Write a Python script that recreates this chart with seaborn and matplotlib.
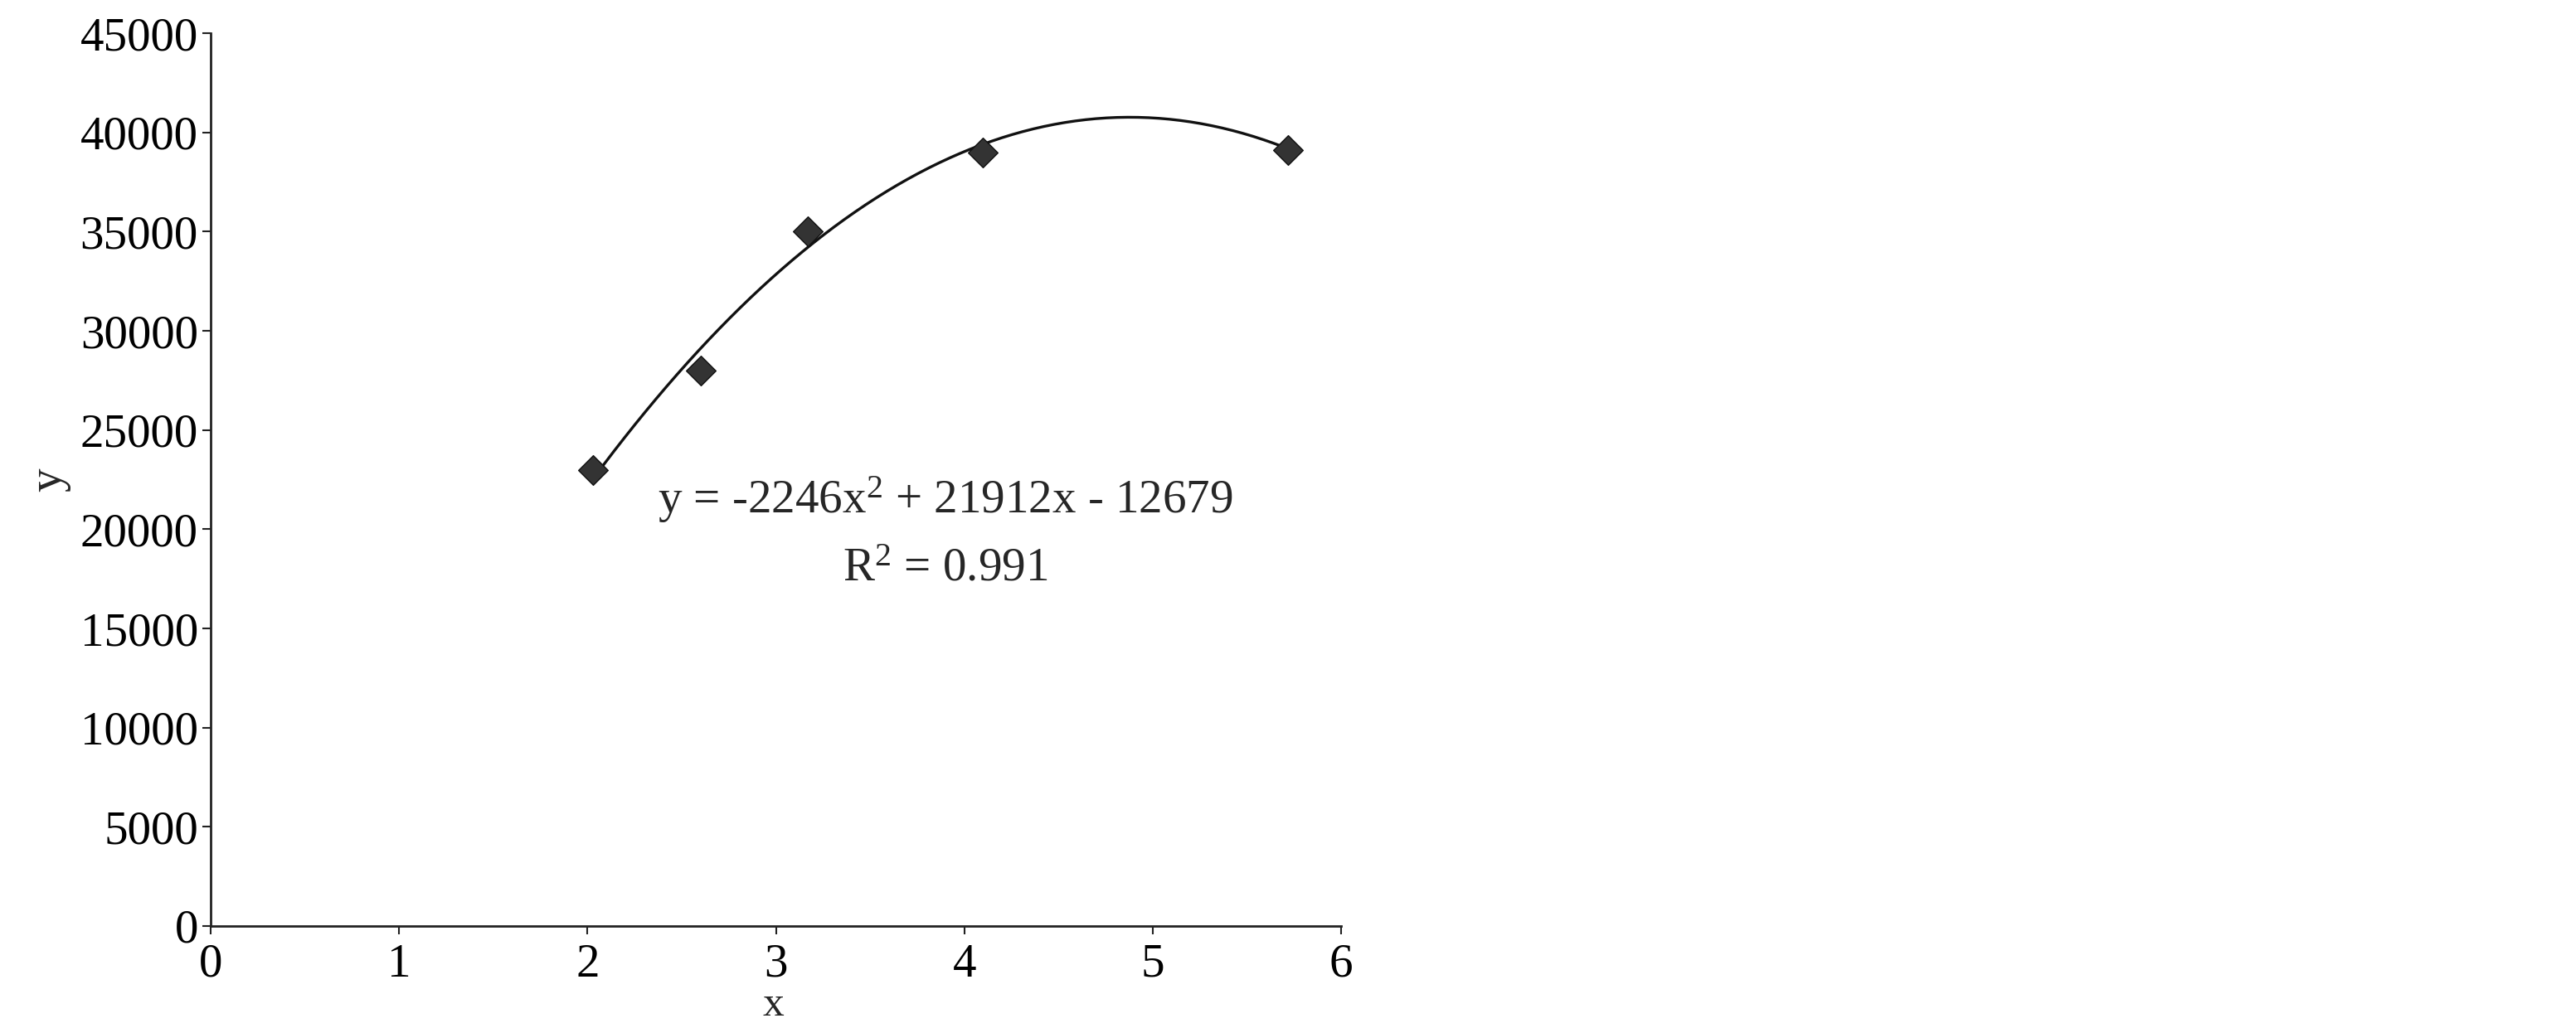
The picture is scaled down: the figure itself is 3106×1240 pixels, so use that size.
import numpy as np
import pandas as pd
import matplotlib
matplotlib.use("Agg")
import matplotlib.pyplot as plt
import seaborn as sns

# Data
x_vals = [2.03, 2.6, 3.17, 4.1, 5.72]
y_vals = [23000, 28000, 35000, 39000, 39100]
coef = [-2246, 21912, -12679]  # quadratic trend line
eq_text = "y = -2246x$^{2}$ + 21912x - 12679"
r2_text = "R$^{2}$ = 0.991"
x_ticks = [0, 1, 2, 3, 4, 5, 6]
y_ticks = [0, 5000, 10000, 15000, 20000, 25000, 30000, 35000, 40000, 45000]

sns.set_style("ticks")
plt.rcParams['font.family'] = ['Liberation Serif', 'DejaVu Serif']
plt.rcParams['mathtext.fontset'] = 'custom'
plt.rcParams['mathtext.rm'] = 'Liberation Serif'
plt.rcParams['mathtext.it'] = 'Liberation Serif'

fig = plt.figure(figsize=(31.06, 12.4), dpi=100)
ax = fig.add_axes([0.0818, 0.0992, 0.4388, 0.8685])

df = pd.DataFrame({"x": x_vals, "y": y_vals})
xf = np.linspace(min(x_vals), max(x_vals), 200)
yf = coef[0] * xf ** 2 + coef[1] * xf + coef[2]
fit = pd.DataFrame({"x": xf, "y": yf})

sns.lineplot(data=fit, x="x", y="y", ax=ax, color="#111111", linewidth=2.4)
sns.scatterplot(data=df, x="x", y="y", ax=ax, marker="D", s=330,
                color="#333333", edgecolor="#111111", linewidth=1, zorder=3)

ax.set_xlim(0, 6)
ax.set_ylim(0, 45000)
ax.set_xticks(x_ticks)
ax.set_yticks(y_ticks)
ax.set_xticklabels([str(t) for t in x_ticks])
ax.set_yticklabels([str(t) for t in y_ticks])
ax.tick_params(axis='both', labelsize=41, length=7, width=1.5, color='#222222', labelcolor='black')
ax.tick_params(axis='x', pad=8)
ax.tick_params(axis='y', pad=4)
for side in ("top", "right"):
    ax.spines[side].set_visible(False)
for side in ("left", "bottom"):
    ax.spines[side].set_linewidth(2)
    ax.spines[side].set_color("#222222")

ax.set_xlabel("x", fontsize=37)
ax.xaxis.set_label_coords(0.498, -0.067)
ax.set_ylabel("y", fontsize=41, labelpad=8)

ax.text(3.9, 21500, eq_text, fontsize=41, ha="center", va="center")
ax.text(3.9, 18000, r2_text, fontsize=41, ha="center", va="center")

fig.savefig("out.png", dpi=100, facecolor="white")
